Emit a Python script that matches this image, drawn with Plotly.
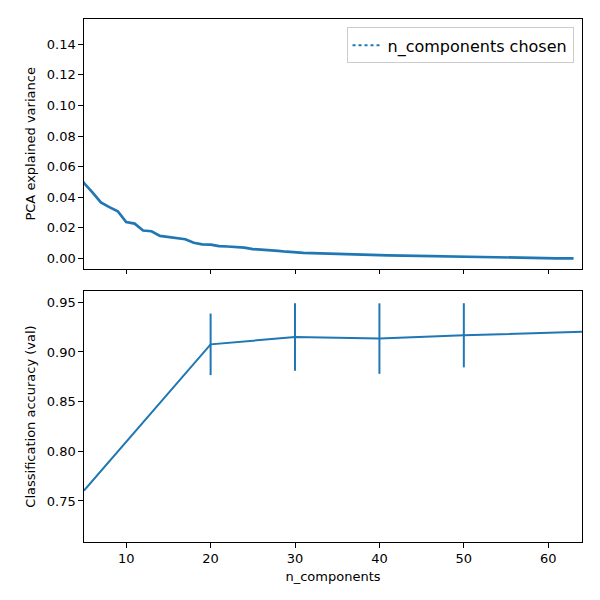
import plotly.graph_objects as go

# PCA explained variance ratio per component (0-based index)
explained_variance = [
    0.1489, 0.1362, 0.1179, 0.0841, 0.0578, 0.0492, 0.0432, 0.0366, 0.0335, 0.0308,
    0.0237, 0.0227, 0.0182, 0.0177, 0.0147, 0.0141, 0.0132, 0.0125, 0.0102, 0.0091,
    0.0089, 0.0080, 0.0077, 0.0072, 0.0070, 0.0060, 0.0058, 0.0052, 0.0049, 0.0043,
    0.0037, 0.0035, 0.0034, 0.0033, 0.0032, 0.0029, 0.0026, 0.0026, 0.0025, 0.0023,
    0.0021, 0.0019, 0.0018, 0.0016, 0.0015, 0.0014, 0.0013, 0.0011, 0.0010, 0.0008,
    0.0006, 0.0005, 0.0004, 0.0003, 0.0003, 0.0002, 0.0002, 0.0001, 0.0001, 0.00007,
    0.00004, 0.0, 0.0, 0.0,
]
component_index = list(range(len(explained_variance)))

n_components = [5, 20, 30, 40, 50, 64]
accuracy = [0.7604, 0.9077, 0.9151, 0.9135, 0.9168, 0.9204]
accuracy_std = [0.0, 0.031, 0.034, 0.0355, 0.0323, 0.0]

blue = '#1f77b4'
font = 'DejaVu Sans'

fig = go.Figure()

fig.add_trace(go.Scatter(
    x=component_index, y=explained_variance, mode='lines',
    line=dict(color=blue, width=2.7), showlegend=False,
    xaxis='x', yaxis='y',
))
# chosen n_components sits on the right spine, so only the legend entry shows
fig.add_trace(go.Scatter(
    x=[None], y=[None], mode='lines',
    line=dict(color=blue, width=2, dash='dot'),
    name='n_components chosen', showlegend=True,
    xaxis='x', yaxis='y',
))
fig.add_trace(go.Scatter(
    x=n_components, y=accuracy, mode='lines',
    line=dict(color=blue, width=2), showlegend=False,
    error_y=dict(type='data', array=accuracy_std, visible=True,
                 color=blue, thickness=2, width=0),
    xaxis='x2', yaxis='y2',
))

axis_common = dict(
    showline=True, linecolor='black', linewidth=1, mirror=True,
    ticks='outside', ticklen=4.7, tickwidth=1, tickcolor='black',
    showgrid=False, zeroline=False,
    tickfont=dict(family=font, size=13, color='black'),
)

# page has an 8px body margin, so margins are shifted to compensate
fig.update_layout(
    width=600, height=600,
    margin=dict(l=76, r=26, t=11, b=66),
    paper_bgcolor='white', plot_bgcolor='white',
    font=dict(family=font, size=13, color='black'),
    xaxis=dict(axis_common, domain=[0, 1], range=[5, 64], anchor='y',
               tickvals=[10, 20, 30, 40, 50, 60], showticklabels=False,
               matches='x2'),
    yaxis=dict(axis_common, domain=[0.5226, 1], range=[-0.0068, 0.1566],
               anchor='x', tickvals=[0, 0.02, 0.04, 0.06, 0.08, 0.10, 0.12, 0.14],
               tickformat='.2f',
               title=dict(text='PCA explained variance', standoff=8,
                          font=dict(family=font, size=13))),
    xaxis2=dict(axis_common, domain=[0, 1], range=[5, 64], anchor='y2',
                tickvals=[10, 20, 30, 40, 50, 60],
                title=dict(text='n_components', standoff=6,
                           font=dict(family=font, size=13))),
    yaxis2=dict(axis_common, domain=[0, 0.4799], range=[0.7087, 0.9614],
                anchor='x2', tickvals=[0.75, 0.80, 0.85, 0.90, 0.95],
                tickformat='.2f',
                title=dict(text='Classification accuracy (val)', standoff=8,
                           font=dict(family=font, size=13))),
    legend=dict(x=0.983, y=0.984, xanchor='right', yanchor='top',
                bgcolor='rgba(255,255,255,0.8)', bordercolor='#cccccc',
                borderwidth=1, font=dict(family=font, size=16)),
)

fig.write_html("out.html")
